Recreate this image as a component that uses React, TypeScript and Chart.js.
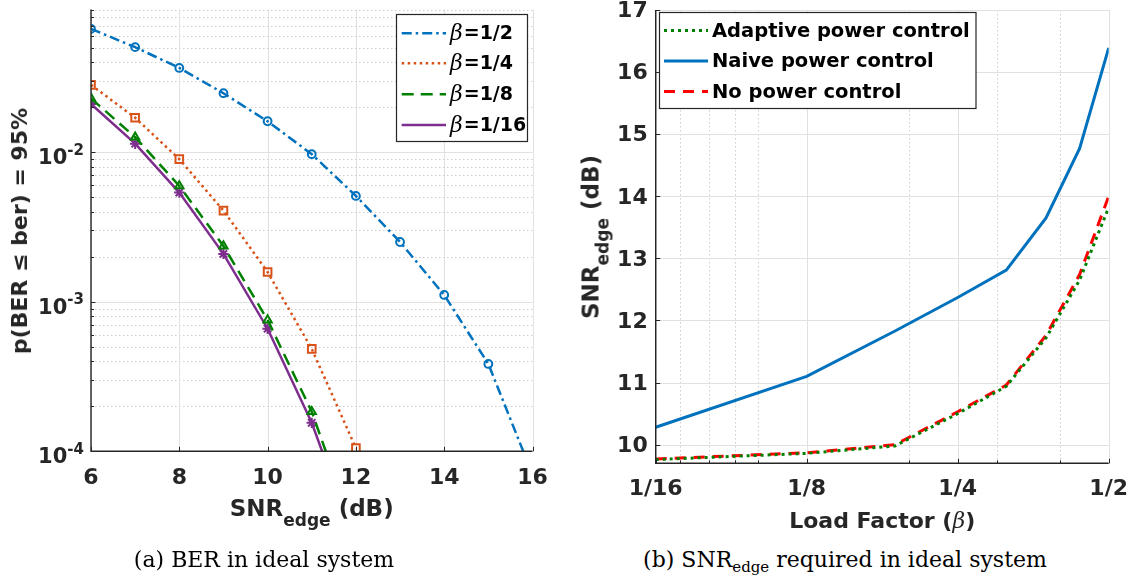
import React, { useEffect, useRef } from "react";
import { Chart, registerables } from "chart.js";

Chart.register(...registerables);

const TEXT = "#262626";
const SANS = "'DejaVu Sans', 'Liberation Sans', sans-serif";
const SERIF = "'DejaVu Serif', 'Liberation Serif', serif";
const TICK_SIZE = 22;

// ---------- (a) BER in ideal system ----------
const snrDb = [6, 7, 8, 9, 10, 11, 12, 13, 14, 15, 16];
const berBetaHalf = [0.0668, 0.0504, 0.0366, 0.0248, 0.0161, 0.0097, 0.0051, 0.00251, 0.00111, 0.000384, 0.00007];
const berBetaQuarter = [0.0282, 0.017, 0.00898, 0.00407, 0.00158, 0.000484, 0.000105];
const berBetaEighth = [0.0229, 0.0126, 0.00595, 0.00236, 0.000755, 0.000184, 0.000027];
const berBetaSixteenth = [0.021, 0.0114, 0.00537, 0.00209, 0.00066, 0.000155, 0.000024];
const berSeriesLabels = ["β=1/2", "β=1/4", "β=1/8", "β=1/16"];
const berXTicks = [6, 8, 10, 12, 14, 16];
const berYTicks = [1e-4, 1e-3, 1e-2];
const berYTickBase = "10";
const berYTickExponents = ["-4", "-3", "-2"];

// ---------- (b) SNR_edge required ----------
const loadFactors = [0.0625, 0.125, 0.1875, 0.25, 0.3125, 0.375, 0.4375, 0.5];
const loadFactorTicks = [0.0625, 0.125, 0.25, 0.5];
const loadFactorTickLabels = ["1/16", "1/8", "1/4", "1/2"];
const loadFactorMinorGrid = [0.07, 0.08, 0.09, 0.1, 0.2, 0.3, 0.4];
const snrAdaptive = [9.76, 9.86, 9.98, 10.5, 10.94, 11.72, 12.65, 13.82];
const snrNaive = [10.28, 11.1, 11.83, 12.37, 12.81, 13.65, 14.77, 16.39];
const snrNoControl = [9.77, 9.87, 10.0, 10.53, 10.96, 11.76, 12.74, 14.0];
const powerSeriesLabels = ["Adaptive power control", "Naive power control", "No power control"];
const snrYTicks = [10, 11, 12, 13, 14, 15, 16, 17];

const berMinorGrid: number[] = [];
[1e-4, 1e-3, 1e-2].forEach((d) => {
  for (let k = 2; k <= 9; k++) berMinorGrid.push(k * d);
});

const zeroPadding = (s: any) => {
  s.paddingTop = 0;
  s.paddingBottom = 0;
  s.paddingLeft = 0;
  s.paddingRight = 0;
};

const matlabAxes = {
  id: "matlabAxes",
  beforeDatasetsDraw(chart: any, _a: any, o: any) {
    const { ctx, chartArea: a } = chart;
    const xs = chart.scales.x;
    const ys = chart.scales.y;
    ctx.save();
    ctx.lineWidth = 1;
    ctx.setLineDash([1.5, 2.5]);
    ctx.strokeStyle = "#cdcdcd";
    (o.xMinor || []).forEach((v: number) => {
      const p = Math.round(xs.getPixelForValue(v)) + 0.5;
      ctx.beginPath(); ctx.moveTo(p, a.top); ctx.lineTo(p, a.bottom); ctx.stroke();
    });
    (o.yMinor || []).forEach((v: number) => {
      const p = Math.round(ys.getPixelForValue(v)) + 0.5;
      ctx.beginPath(); ctx.moveTo(a.left, p); ctx.lineTo(a.right, p); ctx.stroke();
    });
    ctx.setLineDash([]);
    ctx.strokeStyle = "#e1e1e1";
    (o.xMajor || []).forEach((v: number) => {
      const p = Math.round(xs.getPixelForValue(v)) + 0.5;
      ctx.beginPath(); ctx.moveTo(p, a.top); ctx.lineTo(p, a.bottom); ctx.stroke();
    });
    (o.yMajor || []).forEach((v: number) => {
      const p = Math.round(ys.getPixelForValue(v)) + 0.5;
      ctx.beginPath(); ctx.moveTo(a.left, p); ctx.lineTo(a.right, p); ctx.stroke();
    });
    ctx.restore();
  },
  afterDatasetsDraw(chart: any, _a: any, o: any) {
    const { ctx, chartArea: a } = chart;
    const xs = chart.scales.x;
    const ys = chart.scales.y;
    ctx.save();
    ctx.strokeStyle = TEXT;
    ctx.lineWidth = 1.4;
    ctx.setLineDash([]);
    ctx.beginPath();
    ctx.moveTo(a.left, a.top);
    ctx.lineTo(a.left, a.bottom);
    ctx.lineTo(a.right, a.bottom);
    ctx.stroke();
    ctx.lineWidth = 1;
    const tick = (vals: number[], len: number, horiz: boolean) => {
      vals.forEach((v) => {
        if (horiz) {
          const p = Math.round(xs.getPixelForValue(v)) + 0.5;
          ctx.beginPath(); ctx.moveTo(p, a.bottom); ctx.lineTo(p, a.bottom - len); ctx.stroke();
        } else {
          const p = Math.round(ys.getPixelForValue(v)) + 0.5;
          ctx.beginPath(); ctx.moveTo(a.left, p); ctx.lineTo(a.left + len, p); ctx.stroke();
        }
      });
    };
    tick(o.xMajor || [], 4.5, true);
    tick(o.xMinor || [], 3, true);
    tick(o.yMajor || [], 4.5, false);
    tick(o.yMinor || [], 3, false);

    // power-of-ten y tick labels with real superscripts
    if (o.powLabels) {
      const pl = o.powLabels;
      ctx.fillStyle = TEXT;
      ctx.textAlign = "left";
      ctx.textBaseline = "alphabetic";
      pl.values.forEach((v: number, i: number) => {
        const p = ys.getPixelForValue(v);
        ctx.font = `bold ${pl.expSize}px ${SANS}`;
        const ew = ctx.measureText(pl.exps[i]).width;
        ctx.font = `bold ${pl.baseSize}px ${SANS}`;
        const bw = ctx.measureText(pl.base).width;
        const right = a.left - pl.pad;
        const baseLine = p + pl.baseSize * 0.729 / 2 + 4.4;
        ctx.fillText(pl.base, right - ew - bw, baseLine);
        ctx.font = `bold ${pl.expSize}px ${SANS}`;
        ctx.fillText(pl.exps[i], right - ew, p + 2.7);
      });
    }
    ctx.restore();
  },
};

const boxLegend = {
  id: "boxLegend",
  afterDraw(chart: any, _a: any, o: any) {
    const ctx = chart.ctx;
    ctx.save();
    ctx.fillStyle = "#ffffff";
    ctx.fillRect(o.x1, o.y1, o.x2 - o.x1, o.y2 - o.y1);
    ctx.strokeStyle = TEXT;
    ctx.lineWidth = 1.2;
    ctx.setLineDash([]);
    ctx.strokeRect(o.x1, o.y1, o.x2 - o.x1, o.y2 - o.y1);
    chart.data.datasets.forEach((ds: any, k: number) => {
      const y = o.rowY[k];
      ctx.strokeStyle = ds.borderColor;
      ctx.lineWidth = ds.borderWidth;
      ctx.setLineDash(ds.borderDash || []);
      ctx.beginPath();
      ctx.moveTo(o.sx1, y);
      ctx.lineTo(o.sx2, y);
      ctx.stroke();
      ctx.setLineDash([]);
      let x = o.tx;
      let label: string = ds.label;
      ctx.fillStyle = "#000";
      ctx.textAlign = "left";
      ctx.textBaseline = "middle";
      if (label.startsWith("β")) {
        ctx.font = o.greekFont;
        ctx.fillText("β", x, y + 1);
        x += ctx.measureText("β").width + 1;
        label = label.slice(1);
      }
      ctx.font = o.font;
      ctx.fillText(label, x, y + 1);
    });
    ctx.restore();
  },
};

const tickFont = { family: SANS, size: TICK_SIZE, weight: "bold" as const };

function berConfig(): any {
  const mk = (vals: number[]) => vals.map((y, i) => ({ x: snrDb[i], y }));
  const common = { pointBackgroundColor: "rgba(0,0,0,0)", pointBorderWidth: 2, tension: 0, fill: false };
  return {
    type: "line",
    data: {
      datasets: [
        { ...common, label: berSeriesLabels[0], data: mk(berBetaHalf), borderColor: "#0072BD", pointBorderColor: "#0072BD", borderWidth: 2.5, borderDash: [10, 4, 2.5, 4], pointStyle: "circle", pointRadius: 3.9 },
        { ...common, label: berSeriesLabels[1], data: mk(berBetaQuarter), borderColor: "#D95319", pointBorderColor: "#D95319", borderWidth: 2.5, borderDash: [2.5, 3.5], pointStyle: "rect", pointRadius: 5.4 },
        { ...common, label: berSeriesLabels[2], data: mk(berBetaEighth), borderColor: "#008000", pointBorderColor: "#008000", borderWidth: 2.5, borderDash: [12, 7], pointStyle: "triangle", pointRadius: 4.8 },
        { ...common, label: berSeriesLabels[3], data: mk(berBetaSixteenth), borderColor: "#7E2F8E", pointBorderColor: "#7E2F8E", borderWidth: 2.5, borderDash: [], pointStyle: "star", pointRadius: 5.2 },
      ],
    },
    options: {
      responsive: false,
      animation: false,
      events: [],
      layout: { padding: { left: 0, top: 9.5, right: 27.5, bottom: 0 } },
      plugins: {
        legend: { display: false },
        tooltip: { enabled: false },
        matlabAxes: {
          xMajor: berXTicks, yMajor: berYTicks, yMinor: berMinorGrid,
          powLabels: { values: berYTicks, base: berYTickBase, exps: berYTickExponents, baseSize: 21, expSize: 15, pad: 7 },
        },
        boxLegend: {
          x1: 396.5, y1: 14.5, x2: 527.5, y2: 141.5,
          rowY: [33.3, 63.3, 94.3, 125],
          sx1: 401.7, sx2: 446, tx: 450,
          font: `bold 19px ${SANS}`, greekFont: `italic 22px ${SERIF}`,
        },
      },
      scales: {
        x: {
          type: "linear", min: 6, max: 16,
          afterBuildTicks: (s: any) => { s.ticks = berXTicks.map((v) => ({ value: v })); },
          ticks: { font: tickFont, color: TEXT, padding: 14, maxRotation: 0, autoSkip: false },
          grid: { display: false, drawTicks: false },
          border: { display: false },
          afterFit: (s: any) => { s.height = 540 - 451.3; zeroPadding(s); },
        },
        y: {
          type: "logarithmic", min: 1e-4, max: 0.09,
          afterBuildTicks: (s: any) => { s.ticks = berYTicks.map((v) => ({ value: v })); },
          ticks: { display: false },
          grid: { display: false, drawTicks: false },
          border: { display: false },
          afterFit: (s: any) => { s.width = 91; zeroPadding(s); },
        },
      },
    },
    plugins: [matlabAxes, boxLegend],
  };
}

function powerConfig(): any {
  const mk = (vals: number[]) => vals.map((y, i) => ({ x: loadFactors[i], y }));
  const common = { pointRadius: 0, tension: 0, fill: false };
  return {
    type: "line",
    data: {
      datasets: [
        { ...common, label: powerSeriesLabels[0], data: mk(snrAdaptive), borderColor: "#008000", borderWidth: 3, borderDash: [3, 4] },
        { ...common, label: powerSeriesLabels[1], data: mk(snrNaive), borderColor: "#0072BD", borderWidth: 3, borderDash: [] },
        { ...common, label: powerSeriesLabels[2], data: mk(snrNoControl), borderColor: "#FF0000", borderWidth: 3, borderDash: [11, 8] },
      ],
    },
    options: {
      responsive: false,
      animation: false,
      events: [],
      layout: { padding: { left: 0, top: 10, right: 24.3, bottom: 0 } },
      plugins: {
        legend: { display: false },
        tooltip: { enabled: false },
        matlabAxes: { xMajor: loadFactorTicks, xMinor: loadFactorMinorGrid, yMajor: snrYTicks },
        boxLegend: {
          x1: 99.5, y1: 12.5, x2: 416, y2: 108.5,
          rowY: [30.5, 61, 91.5],
          sx1: 104, sx2: 148, tx: 152,
          font: `bold 19.5px ${SANS}`, greekFont: `italic 22px ${SERIF}`,
        },
      },
      scales: {
        x: {
          type: "logarithmic", min: 0.0625, max: 0.5,
          afterBuildTicks: (s: any) => { s.ticks = loadFactorTicks.map((v) => ({ value: v })); },
          ticks: {
            font: tickFont, color: TEXT, padding: 13, maxRotation: 0, autoSkip: false,
            callback: (v: number) => { const i = loadFactorTicks.indexOf(v); return i >= 0 ? loadFactorTickLabels[i] : ""; },
          },
          grid: { display: false, drawTicks: false },
          border: { display: false },
          afterFit: (s: any) => { s.height = 540 - 463.3; zeroPadding(s); },
        },
        y: {
          type: "linear", min: 9.7, max: 17,
          afterBuildTicks: (s: any) => { s.ticks = snrYTicks.map((v) => ({ value: v })); },
          ticks: { font: tickFont, color: TEXT, padding: 8, labelOffset: 1.5, autoSkip: false },
          grid: { display: false, drawTicks: false },
          border: { display: false },
          afterFit: (s: any) => { s.width = 95.7; zeroPadding(s); },
        },
      },
    },
    plugins: [matlabAxes, boxLegend],
  };
}

const abs = (o: any): any => ({ position: "absolute", whiteSpace: "nowrap", ...o });
const sansTitle = { fontFamily: SANS, fontWeight: "bold", color: TEXT };

export default function App() {
  const leftRef = useRef<HTMLCanvasElement>(null);
  const rightRef = useRef<HTMLCanvasElement>(null);
  useEffect(() => {
    const c1 = new Chart(leftRef.current as HTMLCanvasElement, berConfig());
    const c2 = new Chart(rightRef.current as HTMLCanvasElement, powerConfig());
    return () => {
      c1.destroy();
      c2.destroy();
    };
  }, []);
  return (
    <div style={{ position: "fixed", left: 0, top: 0, width: 1133, height: 578, background: "#fff", overflow: "hidden" }}>
      <canvas ref={leftRef} width={560} height={540} style={{ position: "absolute", left: 0, top: 0, width: 560, height: 540 }} />
      <canvas ref={rightRef} width={573} height={540} style={{ position: "absolute", left: 560, top: 0, width: 573, height: 540 }} />

      {/* axis titles (a) */}
      <div style={abs({ ...sansTitle, left: 311.7, top: 497.2, transform: "translateX(-50%)", fontSize: 23, lineHeight: "23px" })}>
        SNR<span style={{ fontSize: 17, position: "relative", top: 10 }}>edge</span> (dB)
      </div>
      <div style={abs({ ...sansTitle, left: 20, top: 231, transform: "translate(-50%,-50%) rotate(-90deg)", fontSize: 22, lineHeight: "22px" })}>
        p(BER ≤ ber) = 95%
      </div>

      {/* axis titles (b) */}
      <div style={abs({ ...sansTitle, left: 882.2, top: 509.7, transform: "translateX(-50%)", fontSize: 22, lineHeight: "22px" })}>
        Load Factor (<span style={{ fontFamily: SERIF, fontStyle: "italic", fontWeight: "normal" }}>β</span>)
      </div>
      <div style={abs({ ...sansTitle, left: 591.7, top: 236.5, transform: "translate(-50%,-50%) rotate(-90deg)", fontSize: 23, lineHeight: "23px" })}>
        SNR<span style={{ fontSize: 17, position: "relative", top: 10 }}>edge</span> (dB)
      </div>

      {/* captions */}
      <div style={abs({ left: 264, top: 549, transform: "translateX(-50%)", fontFamily: SERIF, fontSize: 22, lineHeight: "22px", color: "#000" })}>
        (a) BER in ideal system
      </div>
      <div style={abs({ left: 845, top: 549, transform: "translateX(-50%)", fontFamily: SERIF, fontSize: 22, lineHeight: "22px", color: "#000" })}>
        (b) SNR<span style={{ fontSize: 15, position: "relative", top: 5 }}>edge</span> required in ideal system
      </div>
    </div>
  );
}
